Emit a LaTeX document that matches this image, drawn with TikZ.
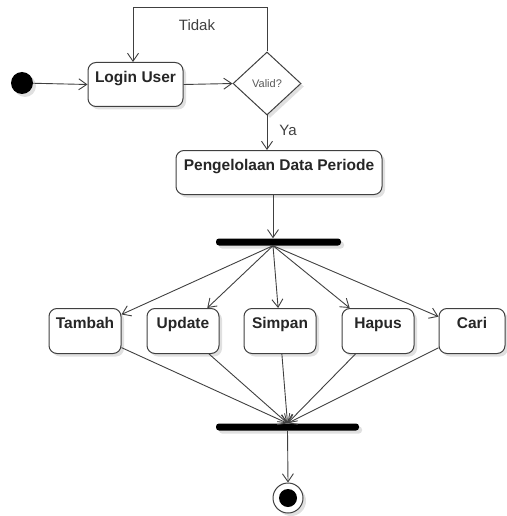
\documentclass[tikz,border=0pt]{standalone}
\usepackage{fontspec}
\setmainfont{Liberation Sans}
\usetikzlibrary{shapes.geometric,arrows.meta,shadows}
\begin{document}
\begin{tikzpicture}[x=1pt,y=-1pt,
  arr/.style={draw=black!75, line width=0.9pt, -{Straight Barb[length=8pt,width=11pt]}},
  shad/.style={drop shadow={shadow xshift=3pt, shadow yshift=-3pt, opacity=0.12, fill=black}},
  act/.style={draw=black!75, line width=1pt, rounded corners=8pt, fill=white, inner sep=0pt,
    text height=20pt, text depth=24pt, anchor=north, text=black!85, shad,
    font=\fontsize{15.5}{18}\selectfont\bfseries},
  lower/.style={act, text depth=25pt, minimum width=72pt},
  syncbar/.style={fill=black, rounded corners=3pt, inner sep=0pt, minimum height=7pt, shad},
  lbl/.style={text=black!75, font=\fontsize{15}{18}\selectfont, inner sep=0pt},
]
\useasboundingbox (0,0) rectangle (506,516);

% start
\node[circle, fill=black, minimum size=22pt, inner sep=0pt, shad] (start) at (22,83) {};
\node[act, minimum width=95pt] (login) at (135.5,62) {Login User};
\node[diamond, draw=black!75, line width=1pt, fill=white, minimum width=68pt, minimum height=63pt,
      inner sep=0pt, text=black!65, font=\fontsize{11}{13}\selectfont, shad] (valid) at (267,83.5) {Valid?};
\node[act, minimum width=206pt] (peng) at (279,150) {Pengelolaan Data Periode};

\node[syncbar, minimum width=125pt] (fork) at (278.5,242) {};

\node[lower] (tambah) at (85,308) {Tambah};
\node[lower] (update) at (183,308) {Update};
\node[lower] (simpan) at (280,308) {Simpan};
\node[lower] (hapus) at (378,308) {Hapus};
\node[lower, minimum width=66pt] (cari) at (472,308) {Cari};

\node[syncbar, minimum width=143pt] (join) at (287.5,427) {};

\node[circle, draw=black!75, line width=1pt, fill=white, minimum size=30pt, inner sep=0pt, shad] (final) at (288,498) {};
\node[circle, fill=black, minimum size=18pt, inner sep=0pt] (finalin) at (final.center) {};

% labels
\node[lbl] (tidak) at (197,25) {Tidak};
\node[lbl] (ya) at (288,130) {Ya};

% connectors
\draw[arr] (start) -- (login.west);
\draw[arr] (login.east) -- (valid.west);
\draw[arr] (valid.north) -- ++(0,-44) -| ([xshift=-2.5pt]login.north);
\draw[arr] (valid.south) -- (valid.south |- peng.north);
\draw[arr] ([xshift=-6pt]peng.south) -- ([xshift=-6pt]peng.south |- fork.north);

\coordinate (fo) at ([xshift=-5.5pt]fork.south);
\foreach \t in {tambah,update,simpan,hapus,cari}
  \draw[arr] (fo) -- (\t);

\coordinate (ji) at (join.north);
\foreach \t in {tambah,update,simpan,hapus,cari}
  \draw[arr] (\t) -- (ji);

\draw[arr] (join.south) -- (final.north);
\end{tikzpicture}
\end{document}
